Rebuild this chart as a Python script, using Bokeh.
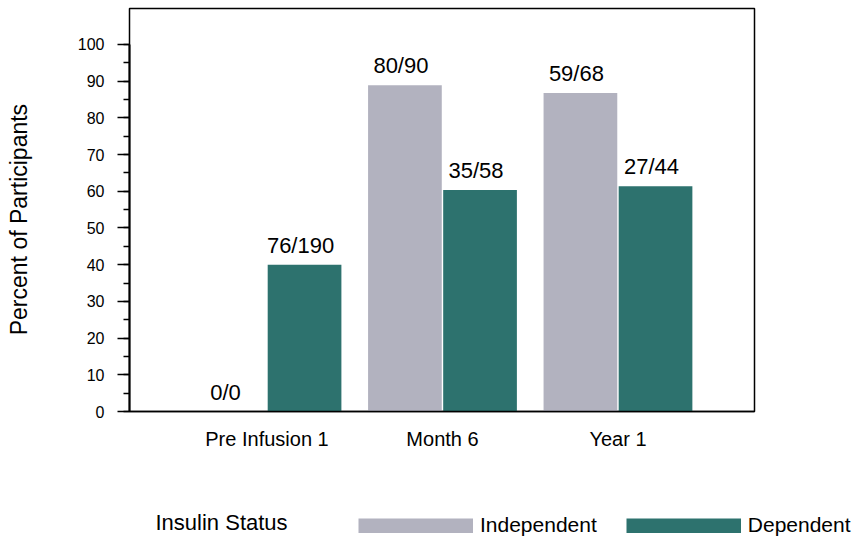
from bokeh.plotting import figure
from bokeh.layouts import column, row
from bokeh.core.properties import value
from bokeh.models import (ColumnDataSource, Legend, LegendItem, Label, LabelSet,
                          SingleIntervalTicker, FixedTicker, Range1d)
from bokeh.embed import file_html
from bokeh.resources import INLINE

# Share of participants by insulin status at each time point (n / N)
timepoints = ["Pre Infusion 1", "Month 6", "Year 1"]
indep_n = [0, 80, 59]
indep_total = [0, 90, 68]
dep_n = [76, 35, 27]
dep_total = [190, 58, 44]
series_names = ["Independent", "Dependent"]
legend_heading = "Insulin Status"

GREY = "#b2b2bf"
TEAL = "#2d726e"
FONT = "Liberation Sans"


def percent(n, total):
    return [100.0 * a / b if b else 0.0 for a, b in zip(n, total)]


def fraction(n, total):
    return [f"{a}/{b}" for a, b in zip(n, total)]


pos = list(range(len(timepoints)))
offset = 0.214
bar_w = 0.42

indep_src = ColumnDataSource(dict(
    x=[p - offset for p in pos],
    top=percent(indep_n, indep_total),
    text=fraction(indep_n, indep_total),
))
dep_src = ColumnDataSource(dict(
    x=[p + offset for p in pos],
    top=percent(dep_n, dep_total),
    text=fraction(dep_n, dep_total),
))

p = figure(width=853, height=490, output_backend="svg", toolbar_location=None,
           x_range=Range1d(-0.7835, 2.778), y_range=Range1d(0, 109.8),
           min_border_left=129, min_border_right=99, min_border_top=8,
           min_border_bottom=79)
p.background_fill_color = "white"
p.border_fill_color = "white"
p.outline_line_color = "black"
p.outline_line_width = 1.5
p.xgrid.visible = False
p.ygrid.visible = False

p.vbar(x="x", top="top", width=bar_w, source=indep_src,
       fill_color=GREY, line_color=None)
p.vbar(x="x", top="top", width=bar_w, source=dep_src,
       fill_color=TEAL, line_color=None)

for src in (indep_src, dep_src):
    p.add_layout(LabelSet(x="x", y="top", text="text", source=src,
                          text_align="center", text_baseline="alphabetic",
                          x_offset=-4, y_offset=12,
                          text_font=value(FONT), text_font_size="22px",
                          text_color="black"))

# y axis (trailing no-break spaces nudge the title down a little)
p.yaxis.ticker = SingleIntervalTicker(interval=10, num_minor_ticks=2)
p.yaxis.bounds = (0, 100)
p.yaxis.axis_label = "Percent of Participants" + "\u00a0" * 3
p.yaxis.axis_label_text_font = FONT
p.yaxis.axis_label_text_font_size = "23px"
p.yaxis.axis_label_text_font_style = "normal"
p.yaxis.axis_label_text_color = "black"
p.yaxis.axis_label_standoff = 43
p.yaxis.major_label_text_font = FONT
p.yaxis.major_label_text_font_size = "16px"
p.yaxis.major_label_text_color = "black"
p.yaxis.major_label_standoff = 13
p.yaxis.major_tick_out = 12
p.yaxis.major_tick_in = 0
p.yaxis.minor_tick_out = 6
p.yaxis.minor_tick_in = 0
p.yaxis.axis_line_width = 2
p.yaxis.major_tick_line_width = 1.5
p.yaxis.minor_tick_line_width = 1.5
p.yaxis.axis_line_color = "black"
p.yaxis.major_tick_line_color = "black"
p.yaxis.minor_tick_line_color = "black"

# x axis: one label per time point
p.xaxis.ticker = FixedTicker(ticks=pos)
p.xaxis.major_label_overrides = {i: t for i, t in zip(pos, timepoints)}
p.xaxis.major_label_text_font = FONT
p.xaxis.major_label_text_font_size = "20px"
p.xaxis.major_label_text_color = "black"
p.xaxis.major_label_standoff = 16
p.xaxis.major_tick_line_color = None
p.xaxis.minor_tick_line_color = None
p.xaxis.major_tick_out = 0
p.xaxis.axis_line_color = "black"
p.xaxis.axis_line_width = 1.5

# legend strip under the chart (its own borderless canvas)
leg = figure(width=853, height=48, output_backend="svg", toolbar_location=None,
             x_range=Range1d(0, 1), y_range=Range1d(0, 1),
             x_axis_location=None, y_axis_location=None, min_border=0)
leg.outline_line_color = None
leg.xgrid.visible = False
leg.ygrid.visible = False
# single-point lines draw nothing; their thick stroke becomes the swatch
swatches = [leg.line(x=[0.5], y=[0.5], line_width=15, line_color=c)
            for c in (GREY, TEAL)]

leg.add_layout(Label(x=155, y=16, x_units="screen", y_units="screen",
                     text=legend_heading, text_font=FONT, text_font_size="22px",
                     text_color="black", text_baseline="middle"))

legend = Legend(items=[LegendItem(label=n, renderers=[r])
                       for n, r in zip(series_names, swatches)],
                orientation="horizontal", location=(358, 1),
                glyph_width=115, glyph_height=15, label_standoff=7, spacing=29,
                padding=0, margin=0, border_line_color=None,
                background_fill_alpha=0,
                label_text_font=FONT, label_text_font_size="21px",
                label_text_color="black")
leg.add_layout(legend, "center")

open("out.html", "w").write(file_html(column(p, row(leg)), INLINE))
